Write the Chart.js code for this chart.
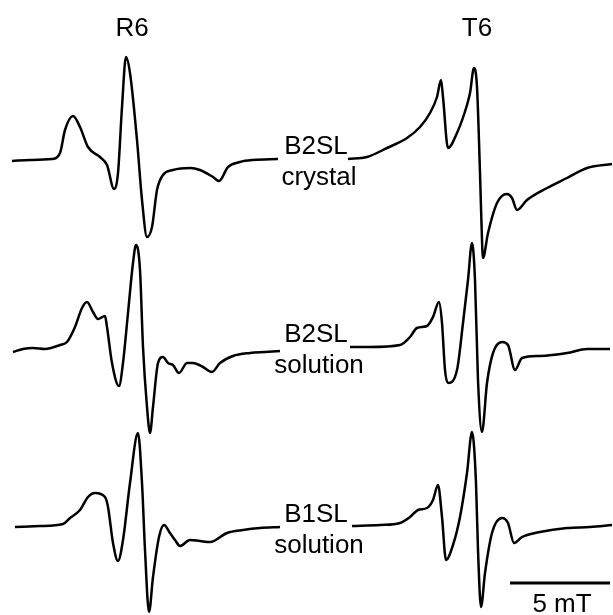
<!DOCTYPE html>
<html>
<head>
<meta charset="utf-8">
<script src="https://cdn.jsdelivr.net/npm/chart.js@4/dist/chart.umd.min.js"></script>
<style>
  html, body { margin: 0; padding: 0; background: #fff; }
  #wrap { width: 613px; height: 615px; }
</style>
</head>
<body>
<div id="wrap"><canvas id="epr" width="613" height="615"></canvas></div>
<script>
// field axis in mT (5 mT bar), amplitude in arbitrary units relative to each baseline
var columnLabels = ['R6', 'T6'];
var rowLabels = [['B2SL', 'crystal'], ['B2SL', 'solution'], ['B1SL', 'solution']];
var rowOffsets = [455, 265, 88];

var r6CrystalField = [0.60,1.50,2.60,3.00,3.25,3.65,4.00,4.40,5.00,5.35,5.70,5.90,6.10,6.30,6.50,6.85,7.10,7.35,7.60,7.85,8.15,8.65,9.50,10.00,10.65,10.95,11.40,12.00,12.65,13.90];
var r6CrystalAmp   = [-1,0,1,7,30,44,33,13,3,-5,-29,-13,53,103,87,20,-40,-77,-67,-30,-15,-10,-8,-10,-17,-21,-7,-2,0,1];

var t6CrystalField = [17.40,18.35,19.35,20.35,21.00,21.50,21.85,22.05,22.15,22.40,22.85,23.35,23.50,23.70,23.85,24.00,24.10,24.15,24.40,24.85,25.35,25.60,25.85,26.35,27.35,28.35,29.35,30.60];
var t6CrystalAmp   = [1,3,12,22,33,47,63,80,63,12,27,55,67,92,73,-13,-80,-98,-73,-43,-34,-38,-50,-40,-28,-18,-8,-4];

var r6B2SolField = [0.65,1.15,1.65,2.25,3.00,3.35,3.75,4.10,4.35,4.65,4.90,5.25,5.35,5.60,5.95,6.15,6.40,6.65,6.80,7.00,7.15,7.35,7.50,7.65,7.90,8.15,8.40,8.65,8.95,9.35,9.65,10.15,10.60,11.00,11.65,12.50,13.25,14.00];
var r6B2SolAmp   = [-2,1,2,1,5,8,23,42,48,38,31,34,23,-13,-36,-13,37,87,105,80,3,-57,-83,-57,-13,-7,-13,-15,-23,-13,-13,-17,-22,-13,-6,-3,-2,-1];

var t6B2SolField = [17.50,18.50,20.00,20.50,20.85,21.35,21.65,21.95,22.10,22.25,22.40,22.85,23.15,23.40,23.60,23.75,23.90,24.10,24.35,24.65,25.10,25.40,25.75,26.10,27.00,28.35,29.35,30.50];
var t6B2SolAmp   = [3,3,5,13,22,24,33,48,27,-20,-33,-20,27,70,107,70,-30,-82,-33,-3,8,5,-20,-8,-6,-3,1,1];

var r6B1SolField = [0.75,2.00,3.15,3.50,4.00,4.40,4.75,5.25,5.40,5.65,5.90,6.15,6.50,6.90,7.10,7.25,7.45,7.65,7.95,8.20,8.50,8.75,9.00,9.50,10.00,10.50,11.35,12.15,13.00,14.00];
var r6B1SolAmp   = [0,1,3,9,17,30,34,30,20,-16,-34,-13,44,94,44,-23,-85,-50,-10,2,-6,-13,-19,-13,-14,-15,-6,-3,-1,0];

var t6B1SolField = [17.60,19.00,20.00,20.50,20.90,21.35,21.65,21.90,22.10,22.30,22.65,23.00,23.35,23.60,23.80,23.90,24.05,24.25,24.60,25.10,25.40,25.70,26.10,27.00,28.35,29.50,30.60];
var t6B1SolAmp   = [1,2,4,10,17,19,27,42,10,-33,-18,10,54,95,44,-23,-80,-46,-6,9,4,-16,-10,-5,-1,0,2];

var scaleBarField = [25.5, 30.5];
var scaleBarLabel = '5 mT';

function trace(fields, amps, offset) {
    return fields.map(function(f, i) { return { x: f, y: amps[i] + offset }; });
}

var traces = [
    trace(r6CrystalField, r6CrystalAmp, rowOffsets[0]),
    trace(t6CrystalField, t6CrystalAmp, rowOffsets[0]),
    trace(r6B2SolField, r6B2SolAmp, rowOffsets[1]),
    trace(t6B2SolField, t6B2SolAmp, rowOffsets[1]),
    trace(r6B1SolField, r6B1SolAmp, rowOffsets[2]),
    trace(t6B1SolField, t6B1SolAmp, rowOffsets[2])
];

var datasets = traces.map(function(d) {
    return {
        data: d,
        borderColor: '#000',
        borderWidth: 2.5,
        pointRadius: 0,
        cubicInterpolationMode: 'monotone',
        clip: false
    };
});
datasets.push({
    data: [{ x: scaleBarField[0], y: 32 }, { x: scaleBarField[1], y: 32 }],
    borderColor: '#000',
    borderWidth: 3,
    pointRadius: 0,
    clip: false
});

var labelPlugin = {
    id: 'eprLabels',
    afterDatasetsDraw: function(chart) {
        var ctx = chart.ctx;
        var xs = chart.scales.x, ys = chart.scales.y;
        ctx.save();
        ctx.fillStyle = '#000';
        ctx.textAlign = 'center';
        ctx.textBaseline = 'alphabetic';
        ctx.font = '26px "Liberation Sans", Arial, sans-serif';
        // column headers
        var colField = [6.6, 23.85];
        columnLabels.forEach(function(t, i) {
            ctx.fillText(t, xs.getPixelForValue(colField[i]), ys.getPixelForValue(579));
        });
        // row labels, two lines each
        var rowLine1 = [461, 273, 93];
        rowLabels.forEach(function(pair, i) {
            ctx.fillText(pair[0], xs.getPixelForValue(15.8), ys.getPixelForValue(rowLine1[i]));
            ctx.fillText(pair[1], xs.getPixelForValue(15.95), ys.getPixelForValue(rowLine1[i] - 31));
        });
        ctx.fillText(scaleBarLabel, xs.getPixelForValue((scaleBarField[0] + scaleBarField[1]) / 2 + 0.1), ys.getPixelForValue(3));
        ctx.restore();
    }
};

new Chart(document.getElementById('epr'), {
    type: 'line',
    data: { datasets: datasets },
    options: {
        responsive: false,
        animation: false,
        layout: { padding: 0 },
        scales: {
            x: { type: 'linear', min: 0, max: 30.65, display: false },
            y: { type: 'linear', min: 0, max: 615, display: false }
        },
        plugins: {
            legend: { display: false },
            tooltip: { enabled: false }
        }
    },
    plugins: [labelPlugin]
});
</script>
</body>
</html>
